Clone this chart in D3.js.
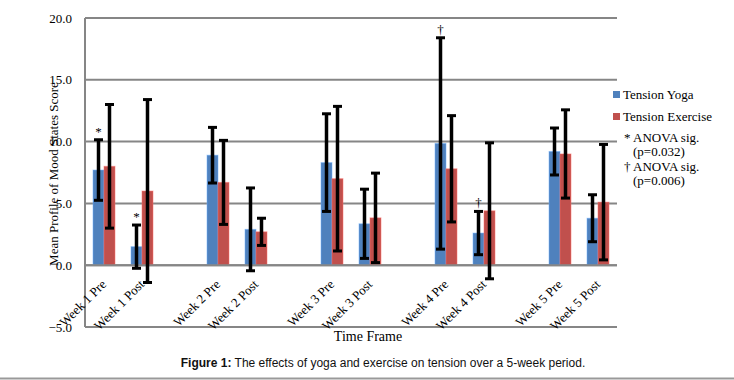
<!DOCTYPE html>
<html>
<head>
<meta charset="utf-8">
<script src="https://cdn.jsdelivr.net/npm/d3@7"></script>
<style>
  html, body { margin: 0; padding: 0; background: #fff; }
  svg { display: block; }
  .serif { font-family: "Liberation Serif", "Times New Roman", serif; fill: #000; }
</style>
</head>
<body>
<svg id="chart" width="734" height="380"></svg>
<script>
// ---- data ----
const timepoints = ["Week 1 Pre", "Week 1 Post", "Week 2 Pre", "Week 2 Post", "Week 3 Pre",
                    "Week 3 Post", "Week 4 Pre", "Week 4 Post", "Week 5 Pre", "Week 5 Post"];
const yogaMean = [7.7, 1.5, 8.9, 2.9, 8.3, 3.35, 9.85, 2.6, 9.2, 3.8];
const yogaErr  = [2.45, 1.75, 2.25, 3.35, 3.95, 2.8, 8.55, 1.75, 1.9, 1.9];
const exMean   = [8.0, 6.0, 6.7, 2.7, 7.0, 3.83, 7.8, 4.4, 9.0, 5.1];
const exErr    = [5.0, 7.4, 3.4, 1.1, 5.85, 3.62, 4.3, 5.5, 3.57, 4.67];
const yTicks   = [-5, 0, 5, 10, 15, 20];
const seriesNames = ["Tension Yoga", "Tension Exercise"];
const sigMarks = [
  { point: "Week 1 Pre",  symbol: "*" },
  { point: "Week 1 Post", symbol: "*" },
  { point: "Week 4 Pre",  symbol: "\u2020" },
  { point: "Week 4 Post", symbol: "\u2020" }
];
const noteLines = [
  ["* ANOVA sig.", "(p=0.032)"],
  ["\u2020 ANOVA sig.", "(p=0.006)"]
];

// ---- layout ----
const svg = d3.select("#chart");
const colors = ["#4f81bd", "#c0504d"];
const plot = { left: 85, right: 617, top: 18, bottom: 327 };

// category slots: each week has Pre, Post and one empty gap slot
const slots = [];
timepoints.forEach((t, i) => {
  slots.push(t);
  if (i % 2 === 1 && i < timepoints.length - 1) slots.push("gap" + i);
});

const x = d3.scaleBand().domain(slots).range([plot.left, plot.right]).padding(0);
const y = d3.scaleLinear().domain([-5, 20]).range([plot.bottom, plot.top]);
const barW = 11;

// gridlines
svg.append("g").selectAll("line").data(yTicks).join("line")
  .attr("x1", plot.left).attr("x2", plot.right)
  .attr("y1", d => y(d)).attr("y2", d => y(d))
  .attr("stroke", "#868686").attr("stroke-width", 2);
// left axis line
svg.append("line")
  .attr("x1", plot.left).attr("x2", plot.left)
  .attr("y1", y(20)).attr("y2", y(-5))
  .attr("stroke", "#868686").attr("stroke-width", 2);

// y tick labels
const yAxis = d3.axisLeft(y).tickValues(yTicks).tickFormat(d3.format(".1f")).tickSize(0).tickPadding(13);
const yg = svg.append("g").attr("transform", `translate(${plot.left},0)`).call(yAxis);
yg.select(".domain").remove();
yg.selectAll("text").attr("class", "serif").style("font-size", "13px").attr("fill", "#000");

// bars
const series = [
  { mean: yogaMean, err: yogaErr, offset: -barW },
  { mean: exMean, err: exErr, offset: 0 }
];
series.forEach((s, si) => {
  const data = timepoints.map((t, i) => ({ t, v: s.mean[i], e: s.err[i] }));
  const g = svg.append("g");
  g.selectAll("rect").data(data).join("rect")
    .attr("x", d => x(d.t) + x.bandwidth() / 2 + s.offset)
    .attr("width", barW)
    .attr("y", d => y(Math.max(0, d.v)))
    .attr("height", d => Math.abs(y(d.v) - y(0)))
    .attr("fill", colors[si])
    .attr("stroke", d3.color(colors[si]).brighter(0.9))
    .attr("stroke-opacity", 0.5)
    .attr("stroke-width", 1);
});

// redraw axis line at zero over bars
svg.append("line")
  .attr("x1", plot.left).attr("x2", plot.right)
  .attr("y1", y(0)).attr("y2", y(0))
  .attr("stroke", "#868686").attr("stroke-width", 2);

// error bars
series.forEach((s, si) => {
  const data = timepoints.map((t, i) => ({ t, v: s.mean[i], e: s.err[i] }));
  const g = svg.append("g");
  const cx = d => x(d.t) + x.bandwidth() / 2 + s.offset + barW / 2;
  g.selectAll("line.v").data(data).join("line").attr("class", "v")
    .attr("x1", cx).attr("x2", cx)
    .attr("y1", d => y(d.v + d.e)).attr("y2", d => y(d.v - d.e))
    .attr("stroke", "#000").attr("stroke-width", 3.5);
  ["hi", "lo"].forEach(k => {
    g.selectAll("line." + k).data(data).join("line").attr("class", k)
      .attr("x1", d => cx(d) - 4.5).attr("x2", d => cx(d) + 4.5)
      .attr("y1", d => y(k === "hi" ? d.v + d.e : d.v - d.e))
      .attr("y2", d => y(k === "hi" ? d.v + d.e : d.v - d.e))
      .attr("stroke", "#000").attr("stroke-width", 3);
  });
});

// significance marks
svg.append("g").selectAll("text").data(sigMarks).join("text")
  .attr("class", "serif")
  .attr("x", d => x(d.point) + x.bandwidth() / 2 - barW / 2)
  .attr("y", d => {
    const i = timepoints.indexOf(d.point);
    return y(yogaMean[i] + yogaErr[i]) - 4;
  })
  .attr("text-anchor", "middle")
  .style("font-size", "13px")
  .attr("fill", (d, i) => i === 3 ? "#7a3a2a" : "#1a2a44")
  .text(d => d.symbol);

// x labels (rotated)
svg.append("g").selectAll("text").data(timepoints).join("text")
  .attr("class", "serif")
  .attr("transform", d => `translate(${x(d) + x.bandwidth() / 2 + 3},${y(0) + 20}) rotate(-45)`)
  .attr("text-anchor", "end")
  .style("font-size", "13px")
  .text(d => d);

// axis titles
svg.append("text").attr("class", "serif")
  .attr("transform", `translate(58,174) rotate(-90)`)
  .attr("text-anchor", "middle")
  .style("font-size", "13px")
  .text("Mean Profile of Mood States Score");

svg.append("text").attr("class", "serif")
  .attr("x", 368).attr("y", 341)
  .attr("text-anchor", "middle")
  .style("font-size", "14px")
  .text("Time Frame");

// legend
const lg = svg.append("g").attr("transform", "translate(613,0)");
seriesNames.forEach((n, i) => {
  const yy = 91 + i * 22;
  lg.append("rect").attr("x", 0).attr("y", yy).attr("width", 7).attr("height", 7).attr("fill", colors[i]);
  lg.append("text").attr("class", "serif").attr("x", 10).attr("y", yy + 8)
    .style("font-size", "13px").text(n);
});
noteLines.forEach((lines, i) => {
  const base = 142 + i * 29;
  lg.append("text").attr("class", "serif").attr("x", 11).attr("y", base)
    .style("font-size", "13px").text(lines[0]);
  lg.append("text").attr("class", "serif").attr("x", 20).attr("y", base + 14)
    .style("font-size", "13px").text(lines[1]);
});

// caption
const cap = svg.append("text")
  .attr("x", 383).attr("y", 367)
  .attr("text-anchor", "middle")
  .style("font-family", "'Liberation Sans', Arial, sans-serif")
  .style("font-size", "12px")
  .attr("fill", "#111");
cap.append("tspan").style("font-weight", "bold").text("Figure 1:");
cap.append("tspan").text(" The effects of yoga and exercise on tension over a 5-week period.");

svg.append("line").attr("x1", 0).attr("x2", 734).attr("y1", 378.5).attr("y2", 378.5)
  .attr("stroke", "#999").attr("stroke-width", 2);
</script>
</body>
</html>
